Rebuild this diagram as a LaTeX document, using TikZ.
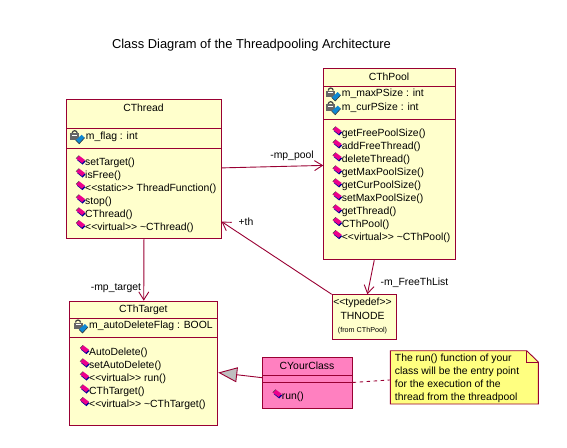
\documentclass[tikz,border=0pt]{standalone}
\usepackage{fontspec}
\setmainfont[Ligatures=NoCommon]{Liberation Sans}
\usetikzlibrary{arrows.meta}
\definecolor{umlline}{HTML}{990033}
\definecolor{classfill}{HTML}{FFFFCC}
\definecolor{notefill}{HTML}{FFFF80}
\definecolor{pinkfill}{HTML}{FF80C0}
\newcommand{\ltlt}{<{}<}
\newcommand{\gtgt}{>{}>}
\tikzset{
  classbox/.style={draw=umlline, line width=0.9pt, fill=classfill, inner sep=0pt, anchor=north west},
  divider/.style={draw=umlline, line width=0.9pt},
  member/.style={font=\fontsize{10.4}{12}\selectfont, anchor=west, inner sep=0pt, text height=7pt, text depth=2pt},
  classname/.style={font=\fontsize{10.4}{12}\selectfont, inner sep=0pt, text height=7pt, text depth=2pt},
  assoc/.style={draw=umlline, line width=0.9pt, -{Straight Barb[length=8pt,width=10pt]}},
  inherit/.style={draw=umlline, line width=0.9pt, -{Triangle[length=19pt,width=15pt,fill=lightgray]}},
  opmark/.pic={
    \fill[blue!60!black] (-8,-3) -- (-2.5,1.5) -- (0.5,-1.5) -- (-5,-6) -- cycle;
    \fill[magenta] (-9,-4.5) -- (-3,0) -- (0,-3) -- (-6,-7.5) -- cycle;
    \draw[black!70, line width=0.5pt] (-9,-4.5) -- (-6,-7.5);
  },
  attrmark/.pic={
    % padlock
    \draw[black!75, line width=1.2pt] (-13.5,-3.5) arc[start angle=180, end angle=360, radius=2.5];
    \fill[black!60] (-15.5,-3.5) rectangle (-6.5,3);
    \fill[white] (-13.5,-2) rectangle (-8.5,-0.8);
    % diamond
    \fill[cyan!70!blue] (-10,3.5) -- (-4,-2) -- (-1,1) -- (-6.5,7) -- cycle;
    \draw[black!80, line width=0.6pt] (-10,3.5) -- (-6.5,7) -- (-1,1);
  }
}
\begin{document}
\begin{tikzpicture}[x=1pt,y=-1pt]
    \useasboundingbox (0,0) rectangle (567,447);

    % Title
    \node[font=\fontsize{12.9}{15}\selectfont, inner sep=0pt] (title) at (251.5,45) {Class Diagram of the Threadpooling Architecture};

    %%%%%%%%%%%%%%%%%%%%%%%%%%%%%%%%%%%%%%%%%%%%%%
    % CThread
    %%%%%%%%%%%%%%%%%%%%%%%%%%%%%%%%%%%%%%%%%%%%%%
    \node[classbox, minimum width=154.4pt, minimum height=139pt] (cthread) at (66.3,99.3) {};
    \draw[divider] (cthread.west |- 0,128.3) -- (cthread.east |- 0,128.3);
    \draw[divider] (cthread.west |- 0,148.7) -- (cthread.east |- 0,148.7);
    \node[classname] (cthreadName) at (143.5,108.5) {CThread};
    \node[member] (threadFlag) at (85.7,136.7) {m\_flag : int};
    \pic at (threadFlag.west) {attrmark};
    \node[member] (threadSetTarget) at (85,163) {setTarget()};
    \pic at (threadSetTarget.west) {opmark};
    \node[member] (threadIsFree) at (85,176) {isFree()};
    \pic at (threadIsFree.west) {opmark};
    \node[member] (threadFunction) at (85,188.7) {\ltlt static\gtgt\ ThreadFunction()};
    \pic at (threadFunction.west) {opmark};
    \node[member] (threadStop) at (85,202) {stop()};
    \pic at (threadStop.west) {opmark};
    \node[member] (threadCtor) at (85,215) {CThread()};
    \pic at (threadCtor.west) {opmark};
    \node[member] (threadDtor) at (85,227.7) {\ltlt virtual\gtgt\ \textasciitilde CThread()};
    \pic at (threadDtor.west) {opmark};

    %%%%%%%%%%%%%%%%%%%%%%%%%%%%%%%%%%%%%%%%%%%%%%
    % CThPool
    %%%%%%%%%%%%%%%%%%%%%%%%%%%%%%%%%%%%%%%%%%%%%%
    \node[classbox, minimum width=131.4pt, minimum height=191pt] (cthpool) at (323.3,68.3) {};
    \draw[divider] (cthpool.west |- 0,86.7) -- (cthpool.east |- 0,86.7);
    \draw[divider] (cthpool.west |- 0,119.3) -- (cthpool.east |- 0,119.3);
    \node[classname] (cthpoolName) at (389,78) {CThPool};
    \node[member] (poolMaxSize) at (341.7,94) {m\_maxPSize : int};
    \pic at (poolMaxSize.west) {attrmark};
    \node[member] (poolCurSize) at (341.7,107.7) {m\_curPSize : int};
    \pic at (poolCurSize.west) {attrmark};
    \node[member] (poolGetFree) at (341.7,134) {getFreePoolSize()};
    \pic at (poolGetFree.west) {opmark};
    \node[member] (poolAddFree) at (341.7,147) {addFreeThread()};
    \pic at (poolAddFree.west) {opmark};
    \node[member] (poolDelete) at (341.7,160) {deleteThread()};
    \pic at (poolDelete.west) {opmark};
    \node[member] (poolGetMax) at (341.7,173) {getMaxPoolSize()};
    \pic at (poolGetMax.west) {opmark};
    \node[member] (poolGetCur) at (341.7,186) {getCurPoolSize()};
    \pic at (poolGetCur.west) {opmark};
    \node[member] (poolSetMax) at (341.7,199) {setMaxPoolSize()};
    \pic at (poolSetMax.west) {opmark};
    \node[member] (poolGetThread) at (341.7,212) {getThread()};
    \pic at (poolGetThread.west) {opmark};
    \node[member] (poolCtor) at (341.7,224.7) {CThPool()};
    \pic at (poolCtor.west) {opmark};
    \node[member] (poolDtor) at (341.7,237.7) {\ltlt virtual\gtgt\ \textasciitilde CThPool()};
    \pic at (poolDtor.west) {opmark};

    %%%%%%%%%%%%%%%%%%%%%%%%%%%%%%%%%%%%%%%%%%%%%%
    % CThTarget
    %%%%%%%%%%%%%%%%%%%%%%%%%%%%%%%%%%%%%%%%%%%%%%
    \node[classbox, minimum width=148pt, minimum height=124.6pt] (cthtarget) at (69.3,300.7) {};
    \draw[divider] (cthtarget.west |- 0,318.3) -- (cthtarget.east |- 0,318.3);
    \draw[divider] (cthtarget.west |- 0,337.3) -- (cthtarget.east |- 0,337.3);
    \node[classname] (cthtargetName) at (143.3,309.7) {CThTarget};
    \node[member] (targetFlag) at (89,326) {m\_autoDeleteFlag : BOOL};
    \pic at (targetFlag.west) {attrmark};
    \node[member] (targetAuto) at (89,352.7) {AutoDelete()};
    \pic at (targetAuto.west) {opmark};
    \node[member] (targetSetAuto) at (89,366) {setAutoDelete()};
    \pic at (targetSetAuto.west) {opmark};
    \node[member] (targetRun) at (89,379) {\ltlt virtual\gtgt\ run()};
    \pic at (targetRun.west) {opmark};
    \node[member] (targetCtor) at (89,392) {CThTarget()};
    \pic at (targetCtor.west) {opmark};
    \node[member] (targetDtor) at (89,404.7) {\ltlt virtual\gtgt\ \textasciitilde CThTarget()};
    \pic at (targetDtor.west) {opmark};

    %%%%%%%%%%%%%%%%%%%%%%%%%%%%%%%%%%%%%%%%%%%%%%
    % THNODE typedef
    %%%%%%%%%%%%%%%%%%%%%%%%%%%%%%%%%%%%%%%%%%%%%%
    \node[classbox, minimum width=64pt, minimum height=45pt] (thnode) at (331.7,294.3) {};
    \node[classname] (thnodeStereo) at (362.5,302.7) {\ltlt typedef\gtgt};
    \node[classname] (thnodeName) at (362.5,316.7) {THNODE};
    \node[classname, font=\fontsize{7.2}{9}\selectfont] (thnodeFrom) at (362.5,329.7) {(from CThPool)};

    %%%%%%%%%%%%%%%%%%%%%%%%%%%%%%%%%%%%%%%%%%%%%%
    % CYourClass
    %%%%%%%%%%%%%%%%%%%%%%%%%%%%%%%%%%%%%%%%%%%%%%
    \node[classbox, fill=pinkfill, minimum width=89.4pt, minimum height=51pt] (cyourclass) at (262.3,357.3) {};
    \draw[divider] (cyourclass.west |- 0,375.3) -- (cyourclass.east |- 0,375.3);
    \draw[divider] (cyourclass.west |- 0,382.3) -- (cyourclass.east |- 0,382.3);
    \node[classname] (cyourclassName) at (307,366.7) {CYourClass};
    \node[member] (yourRun) at (281.7,397) {run()};
    \pic at (yourRun.west) {opmark};

    %%%%%%%%%%%%%%%%%%%%%%%%%%%%%%%%%%%%%%%%%%%%%%
    % Note
    %%%%%%%%%%%%%%%%%%%%%%%%%%%%%%%%%%%%%%%%%%%%%%
    \draw[divider, fill=notefill] (390.3,350.7) -- (526.7,350.7) -- (538.3,362) -- (538.3,404) -- (390.3,404) -- cycle;
    \draw[divider] (526.7,350.7) -- (526.7,362) -- (538.3,362);
    \node[minimum width=148pt, minimum height=53.3pt, inner sep=0pt] (note) at (464.3,377.35) {};
    \node[member] (noteLineA) at (394.7,358.7) {The run() function of your};
    \node[member] (noteLineB) at (394.7,371.7) {class  will be the entry point};
    \node[member] (noteLineC) at (394.7,384.7) {for the execution of the};
    \node[member] (noteLineD) at (394.7,397.7) {thread from the threadpool};

    %%%%%%%%%%%%%%%%%%%%%%%%%%%%%%%%%%%%%%%%%%%%%%
    % Connectors
    %%%%%%%%%%%%%%%%%%%%%%%%%%%%%%%%%%%%%%%%%%%%%%
    \draw[assoc] (cthread.1.5) -- (cthpool.181.3);
    \node[classname] (mpPool) at (292,155.5) {-mp\_pool};
    \draw[assoc] (cthread.south) -- (cthtarget.north);
    \node[classname] (mpTarget) at (116,288) {-mp\_target};
    \draw[assoc] (thnode.north west) -- (cthread.-34.4);
    \node[classname] (plusTh) at (246,222.5) {+th};
    \draw[assoc] (cthpool.-99.7) -- (thnode.82.2);
    \node[classname] (freeList) at (414.5,283) {-m\_FreeThList};
    \draw[inherit] (cyourclass.173) -- (cthtarget.-7);
    \draw[divider, dash pattern=on 3.5pt off 3.5pt] (cyourclass.1.9) -- (note.182);
  \end{tikzpicture}
\end{document}
